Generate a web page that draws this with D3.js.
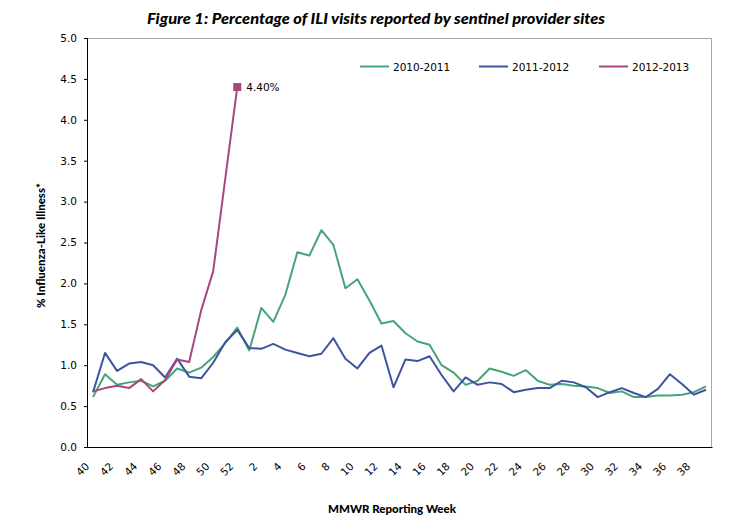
<!DOCTYPE html>
<html>
<head>
<meta charset="utf-8">
<script src="https://cdn.jsdelivr.net/npm/d3@7"></script>
<style>
  body { margin: 0; background: #fff; }
  .tick text { font-family: "DejaVu Sans", sans-serif; font-size: 10.5px; fill: #000; }
</style>
</head>
<body>
<div class="d3-container"></div>
<script>
// MMWR weeks, 40 of one year through 39 of the next
const weeks = [40, 41, 42, 43, 44, 45, 46, 47, 48, 49, 50, 51, 52,
  1, 2, 3, 4, 5, 6, 7, 8, 9, 10, 11, 12, 13, 14, 15, 16, 17, 18, 19, 20,
  21, 22, 23, 24, 25, 26, 27, 28, 29, 30, 31, 32, 33, 34, 35, 36, 37, 38, 39];

const season1011 = [0.61, 0.89, 0.76, 0.79, 0.81, 0.74, 0.81, 0.96, 0.91, 0.97, 1.10, 1.27, 1.46,
  1.18, 1.70, 1.53, 1.86, 2.38, 2.34, 2.65, 2.47, 1.94, 2.05, 1.79, 1.51, 1.54, 1.39, 1.29, 1.25,
  1.00, 0.91, 0.76, 0.81, 0.96, 0.92, 0.87, 0.94, 0.81, 0.76, 0.77, 0.75, 0.74, 0.72, 0.66, 0.68,
  0.61, 0.61, 0.63, 0.63, 0.64, 0.67, 0.74];

const season1112 = [0.67, 1.15, 0.93, 1.02, 1.04, 1.00, 0.85, 1.08, 0.86, 0.84, 1.03, 1.28, 1.43,
  1.21, 1.20, 1.26, 1.19, 1.15, 1.11, 1.14, 1.33, 1.08, 0.96, 1.15, 1.24, 0.73, 1.07, 1.05, 1.11,
  0.88, 0.68, 0.85, 0.76, 0.79, 0.77, 0.67, 0.70, 0.72, 0.72, 0.81, 0.79, 0.73, 0.61, 0.67, 0.72,
  0.66, 0.61, 0.71, 0.89, 0.77, 0.64, 0.70];

// current season, reported so far (week 51 missing)
const season1213 = [0.68, 0.72, 0.75, 0.72, 0.83, 0.68, 0.82, 1.07, 1.04, 1.67, 2.15, null, 4.40];

const seriesNames = ["2010-2011", "2011-2012", "2012-2013"];
const colors = ["#47a37b", "#3d55a0", "#a8467d"];
const yTicks = [0, 0.5, 1, 1.5, 2, 2.5, 3, 3.5, 4, 4.5, 5];

const width = 746;
const height = 520;
const margin = {top: 38, bottom: 73, left: 87, right: 34};

const svg = d3.select(".d3-container")
  .append("svg")
  .attr("width", width)
  .attr("height", height)
  .attr("viewBox", [0, 0, width, height]);

const x = d3.scaleBand()
  .domain(d3.range(weeks.length))
  .range([margin.left, width - margin.right]);

const y = d3.scaleLinear()
  .domain([0, 5])
  .range([height - margin.bottom, margin.top]);

const cx = i => x(i) + x.bandwidth() / 2;

// frame: grey top/right
svg.append("path")
  .attr("fill", "none")
  .attr("stroke", "#a6a6a6")
  .attr("d", `M${margin.left},${margin.top + 0.5}H${width - margin.right - 0.5}V${height - margin.bottom}`);

// y axis
svg.append("g")
  .attr("transform", `translate(${margin.left}, 0)`)
  .call(d3.axisLeft(y).tickValues(yTicks).tickFormat(d3.format(".1f")).tickSize(3).tickPadding(7))
  .call(g => g.selectAll("line, path").attr("stroke", "#000"));

// x axis, labels every other week, no tick marks
svg.append("g")
  .attr("transform", `translate(0, ${height - margin.bottom})`)
  .call(d3.axisBottom(x).tickValues(d3.range(0, weeks.length, 2)).tickFormat(i => weeks[i]).tickSize(0))
  .call(g => g.select(".domain").attr("stroke", "#000"))
  .call(g => g.selectAll("text")
    .attr("text-anchor", "end")
    .attr("dy", null)
    .attr("y", 0)
    .attr("transform", "translate(-3, 20) rotate(-45)"));

const line = d3.line()
  .x(d => cx(d.i))
  .y(d => y(d.v));

const allSeries = [season1011, season1112, season1213];

allSeries.forEach((vals, k) => {
  const pts = vals.map((v, i) => ({i, v})).filter(d => d.v != null);
  svg.append("path")
    .datum(pts)
    .attr("fill", "none")
    .attr("stroke", colors[k])
    .attr("stroke-width", 2)
    .attr("stroke-linejoin", "round")
    .attr("d", line);
});

// marker on latest value
const lastIdx = season1213.length - 1;
const lastVal = season1213[lastIdx];
svg.append("rect")
  .attr("x", cx(lastIdx) - 4)
  .attr("y", y(lastVal) - 4)
  .attr("width", 8)
  .attr("height", 8)
  .attr("fill", colors[2]);

svg.append("text")
  .attr("x", cx(lastIdx) + 9)
  .attr("y", y(lastVal) + 4)
  .attr("font-family", "DejaVu Sans, sans-serif")
  .attr("font-size", 10.5)
  .text(d3.format(".2f")(lastVal) + "%");

// legend
const legendX = [360, 479, 599];
const legend = svg.append("g")
  .selectAll("g")
  .data(seriesNames)
  .join("g")
  .attr("transform", (d, i) => `translate(${legendX[i]}, 66.5)`);

legend.append("line")
  .attr("x1", 0).attr("x2", 29)
  .attr("stroke", (d, i) => colors[i])
  .attr("stroke-width", 2);

legend.append("text")
  .attr("x", 33)
  .attr("y", 4)
  .attr("font-family", "DejaVu Sans, sans-serif")
  .attr("font-size", 10.5)
  .text(d => d);

// titles
svg.append("text")
  .attr("x", 376)
  .attr("y", 24)
  .attr("text-anchor", "middle")
  .attr("font-family", "Lato, sans-serif")
  .attr("font-weight", 900)
  .attr("font-style", "italic")
  .attr("font-size", 15)
  .attr("textLength", 458)
  .attr("lengthAdjust", "spacingAndGlyphs")
  .text("Figure 1: Percentage of ILI visits reported by sentinel provider sites");

svg.append("text")
  .attr("transform", `translate(45, ${(margin.top + height - margin.bottom) / 2 + 3}) rotate(-90)`)
  .attr("text-anchor", "middle")
  .attr("font-family", "Lato, sans-serif")
  .attr("font-weight", 900)
  .attr("font-size", 11.5)
  .text("% Influenza-Like Illness*");

svg.append("text")
  .attr("x", 392)
  .attr("y", 513)
  .attr("text-anchor", "middle")
  .attr("font-family", "Lato, sans-serif")
  .attr("font-weight", 900)
  .attr("font-size", 11.5)
  .text("MMWR Reporting Week");

svg.node();
</script>
</body>
</html>
